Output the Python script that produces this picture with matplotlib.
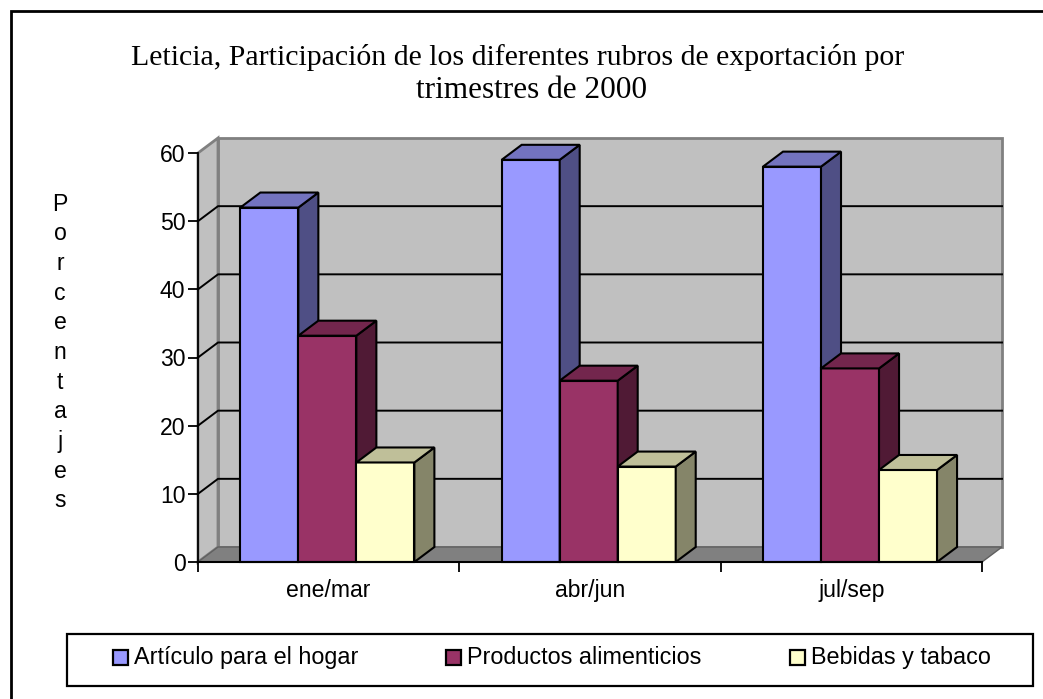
# -*- coding: utf-8 -*-
import numpy as np
from matplotlib import pyplot as plt
from matplotlib.patches import Polygon, Rectangle

W, H = 1043, 699

titulo = ['Leticia, Participación de los diferentes rubros de exportación por', 'trimestres de 2000']
categorias = ['ene/mar', 'abr/jun', 'jul/sep']
series = ['Artículo para el hogar', 'Productos alimenticios', 'Bebidas y tabaco']
hogar = [52, 59, 58]
alimentos = [33.2, 26.6, 28.4]
bebidas = [14.6, 14, 13.5]
yticks = [0, 10, 20, 30, 40, 50, 60]
ylabel = 'Porcentajes'

frente = ['#9999ff', '#993366', '#ffffcc']
lado = ['#4f4f85', '#501a35', '#858569']
arriba = ['#7373bf', '#73264d', '#bfbf99']

fig = plt.figure(figsize=(W / 100, H / 100), dpi=100)
plt.rcParams['font.family'] = ['Liberation Sans']


def px_axes(x0, y0, x1, y1):
    return [x0 / W, 1 - y1 / H, (x1 - x0) / W, (y1 - y0) / H]


# marco exterior (se sale de la imagen por la derecha y por abajo)
fig.add_artist(Rectangle((11 / W, 1 - 720 / H), 1060 / W, 709 / H, transform=fig.transFigure,
                         fc='white', ec='black', lw=2, zorder=-1))

ax = fig.add_axes(px_axes(198, 153, 982, 562))
ax.set_xlim(0, 3)
ax.set_ylim(0, 60)
ax.patch.set_visible(False)
for s in ax.spines.values():
    s.set_visible(False)

# profundidad 3D en unidades de datos
dx = 20 / (784 / 3)
dy = 15 / (409 / 60)

# pared de fondo, pared izquierda y piso
ax.add_patch(Rectangle((dx, dy), 3, 60, fc='#c0c0c0', ec='#808080', lw=2, clip_on=False, zorder=1))
ax.add_patch(Polygon([(0, 0), (dx, dy), (dx, 60 + dy), (0, 60)], fc='#c0c0c0', ec='#808080',
                     lw=2, clip_on=False, zorder=1))
ax.add_patch(Polygon([(0, 0), (dx, dy), (3 + dx, dy), (3, 0)], fc='#808080', ec='#606060',
                     lw=1, clip_on=False, zorder=1))
for v in yticks[1:-1]:
    ax.plot([0, dx, 3 + dx], [v, v + dy, v + dy], color='black', lw=1.4, clip_on=False, zorder=2)

ancho = 0.222
inicio = 0.162
valores = [hogar, alimentos, bebidas]
z = 3
for c in range(len(categorias)):
    for k in range(len(series)):
        x0 = c + inicio + k * ancho
        v = valores[k][c]
        ax.bar(x0, v, ancho, align='edge', color=frente[k], edgecolor='black', lw=1.5, zorder=z,
               clip_on=False)
        ax.add_patch(Polygon([(x0 + ancho, 0), (x0 + ancho + dx, dy), (x0 + ancho + dx, v + dy),
                              (x0 + ancho, v)], fc=lado[k], ec='black', lw=1.5, clip_on=False, zorder=z))
        ax.add_patch(Polygon([(x0, v), (x0 + dx, v + dy), (x0 + ancho + dx, v + dy),
                              (x0 + ancho, v)], fc=arriba[k], ec='black', lw=1.5, clip_on=False, zorder=z))
        z += 1

ax.set_yticks(yticks)
ax.set_xticks(np.arange(len(categorias) + 1))
ax.set_xticklabels([])
ax.set_xticks(np.arange(len(categorias)) + 0.5, minor=True)
ax.set_xticklabels(categorias, minor=True)
ax.tick_params(axis='x', which='minor', length=0, labelsize=16.6, pad=12)
ax.tick_params(axis='x', which='major', length=7, width=1.3, direction='out')
ax.tick_params(axis='y', length=7, width=1.3, labelsize=16.6, pad=2)
ax.plot([0, 0], [0, 60], color='black', lw=1.3, clip_on=False, zorder=2)
ax.plot([0, 3], [0, 0], color='black', lw=1.5, clip_on=False, zorder=20)

# el segundo renglon del titulo no esta centrado con el primero en el original
fig.text(518 / W, 1 - 65 / H, titulo[0], ha='center', va='baseline', fontsize=21.5, family='Liberation Serif')
fig.text(532 / W, 1 - 98 / H, titulo[1], ha='center', va='baseline', fontsize=22.5, family='Liberation Serif')
fig.text(60 / W, 1 - 352.5 / H, '\n'.join(ylabel), ha='center', va='center', fontsize=16.6, linespacing=1.37)

# leyenda
fig.add_artist(Rectangle((67 / W, 1 - 686 / H), 966 / W, 52 / H, transform=fig.transFigure,
                         fc='white', ec='black', lw=1.6))
leg_x = [113, 446, 790]
for k, nombre in enumerate(series):
    fig.add_artist(Rectangle((leg_x[k] / W, 1 - 665 / H), 15 / W, 15 / H, transform=fig.transFigure,
                             fc=frente[k], ec='black', lw=1.6))
    fig.text((leg_x[k] + 21) / W, 1 - 664 / H, nombre, ha='left', va='baseline', fontsize=16.8)

fig.savefig('out.png', dpi=100)
